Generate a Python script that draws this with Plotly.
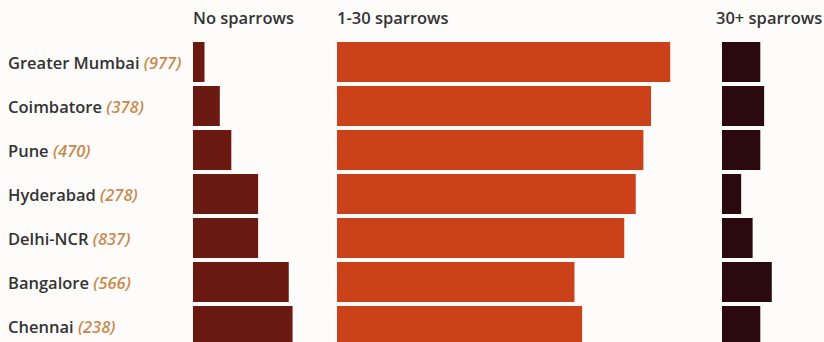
import plotly.graph_objects as go

# ---- data ----
cities = ["Greater Mumbai", "Coimbatore", "Pune", "Hyderabad", "Delhi-NCR", "Bangalore", "Chennai"]
respondents = [977, 378, 470, 278, 837, 566, 238]
no_sparrows = [3, 7, 10, 17, 17, 25, 26]          # % of respondents
few_sparrows = [87, 82, 80, 78, 75, 62, 64]      # 1-30 sparrows, %
many_sparrows = [10, 11, 10, 5, 8, 13, 10]       # 30+ sparrows, %
column_titles = ["No sparrows", "1-30 sparrows", "30+ sparrows"]

# ---- style ----
W, H = 824, 342
PX_PER_PCT = 3.83
FONT = "Open Sans"
TEXT_COLOR = "#333333"
COUNT_COLOR = "#c98a4e"
colors = ["#6a1a10", "#cb411a", "#2a0a0e"]
panels_px = [(193, 335), (337, 716), (722, 824)]

fig = go.Figure()
series = [no_sparrows, few_sparrows, many_sparrows]
axes = ["x", "x2", "x3"]
for vals, col, ax in zip(series, colors, axes):
    fig.add_trace(go.Bar(
        y=cities, x=vals, orientation="h", xaxis=ax, yaxis="y",
        marker=dict(color=col, line=dict(width=0)),
        hoverinfo="x+y", showlegend=False,
    ))

layout_axes = {}
for i, (x0, x1) in enumerate(panels_px):
    key = "xaxis" if i == 0 else f"xaxis{i+1}"
    layout_axes[key] = dict(
        domain=[x0 / W, x1 / W], range=[0, (x1 - x0) / PX_PER_PCT],
        visible=False, fixedrange=True, anchor="y",
    )

pitch = 44.0
top_center = 62.0
r_top = -top_center / pitch
r_bot = r_top + H / pitch

annotations = []
for c, n in zip(cities, respondents):
    annotations.append(dict(
        x=6 / W, xref="paper", xanchor="left", y=c, yref="y", yanchor="middle",
        text=f"{c} <i><span style='color:{COUNT_COLOR}'>({n})</span></i>",
        showarrow=False, font=dict(family=FONT, size=16.5, color=TEXT_COLOR, weight=600),
    ))
for i, (t, (x0, _)) in enumerate(zip(column_titles, panels_px)):
    last = i == len(column_titles) - 1
    annotations.append(dict(
        x=1 if last else (x0 - 2) / W, xref="paper", xanchor="right" if last else "left",
        y=1 - 18 / H, yref="paper", yanchor="middle",
        text=t, showarrow=False,
        font=dict(family=FONT, size=16.5, color=TEXT_COLOR, weight=600),
    ))

fig.update_layout(
    width=W, height=H, margin=dict(l=0, r=0, t=0, b=0),
    paper_bgcolor="#fdfcfa", plot_bgcolor="#fdfcfa",
    bargap=4 / pitch,
    yaxis=dict(categoryorder="array", categoryarray=cities, range=[r_bot, r_top],
               visible=False, fixedrange=True, domain=[0, 1]),
    annotations=annotations,
    **layout_axes,
)

fig.write_html("out.html", config={"displayModeBar": False},
               post_script="document.body.style.margin='0';document.body.style.overflow='hidden';")
